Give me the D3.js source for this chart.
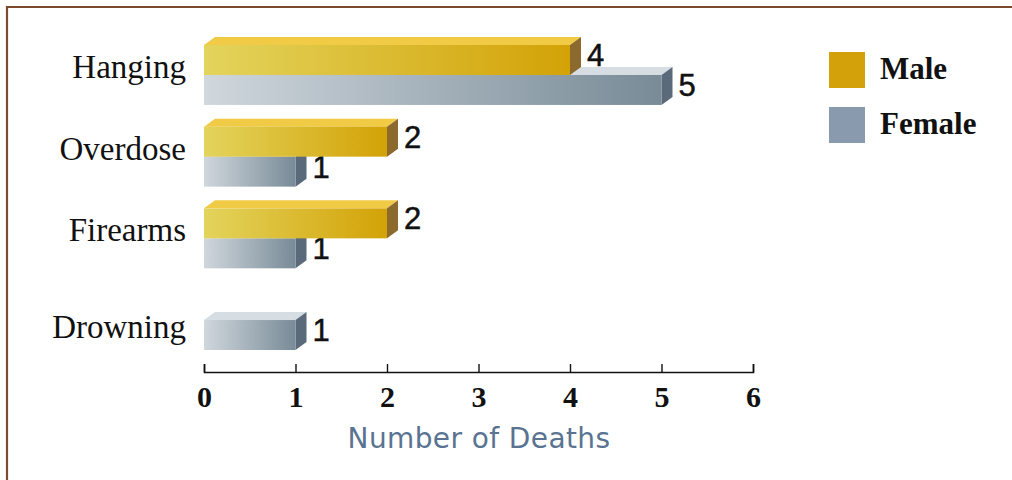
<!DOCTYPE html>
<html><head><meta charset="utf-8">
<script src="https://cdn.jsdelivr.net/npm/d3@7"></script>
<style>html,body{margin:0;padding:0;background:#fff;}svg{display:block;}</style>
</head><body>
<svg id="chart" width="1012" height="480"></svg>
<script>
const categories = ["Hanging", "Overdose", "Firearms", "Drowning"];
const seriesNames = ["Male", "Female"];
const maleValues = [4, 2, 2, 0];
const femaleValues = [5, 1, 1, 1];
const xTicks = [0, 1, 2, 3, 4, 5, 6];
const xTitle = "Number of Deaths";

const svg = d3.select("#chart");
const W = 1012, H = 480;

// frame
svg.append("path").attr("d", `M7,${H} L7,7 L${W},7`).attr("fill","none")
  .attr("stroke","#7b4a2c").attr("stroke-width",2.2);

const x = d3.scaleLinear().domain([0, 6]).range([204, 753]);
const y = d3.scaleBand().domain(categories).range([45, 350]).paddingInner(0.266).paddingOuter(0);
const ys = d3.scaleBand().domain(seriesNames).range([0, y.bandwidth()]);

const defs = svg.append("defs");
const styles = {
  Male: {front:["#e3d45c","#d3a207"], top:"#f1cb45", side:"#8c6a2e"},
  Female: {front:["#d0d7dd","#788b97"], top:"#d6dee4", side:"#5b6a7a"}
};
seriesNames.forEach(s => {
  const g = defs.append("linearGradient").attr("id","g"+s).attr("x1","0").attr("x2","1").attr("y1","0").attr("y2","0");
  g.append("stop").attr("offset","0").attr("stop-color",styles[s].front[0]);
  g.append("stop").attr("offset","1").attr("stop-color",styles[s].front[1]);
});

const dx = 11, dy = 8;
const rows = [];
categories.forEach((c, i) => {
  rows.push({cat:c, s:"Female", v:femaleValues[i]});
  rows.push({cat:c, s:"Male", v:maleValues[i]});
});

const bars = svg.append("g");
rows.filter(d => d.v > 0).forEach(d => {
  const x0 = x(0), x1 = x(d.v);
  const y0 = y(d.cat) + ys(d.s), h = ys.bandwidth();
  const st = styles[d.s];
  bars.append("path").attr("d", `M${x0},${y0} L${x0+dx},${y0-dy} L${x1+dx},${y0-dy} L${x1},${y0} Z`).attr("fill", st.top);
  bars.append("path").attr("d", `M${x1},${y0} L${x1+dx},${y0-dy} L${x1+dx},${y0+h-dy} L${x1},${y0+h} Z`).attr("fill", st.side);
  bars.append("rect").attr("x",x0).attr("y",y0).attr("width",x1-x0).attr("height",h).attr("fill","url(#g"+d.s+")");
  bars.append("text").attr("x", x1+dx+6).attr("y", y0+21)
    .attr("font-family","'Liberation Sans', Arial, sans-serif").attr("font-size",31).attr("fill","#111")
    .attr("stroke","#111").attr("stroke-width",0.5)
    .text(d.v);
});

// category labels: centred on the bars actually drawn in each group
const labelY = categories.map((c, i) => {
  const present = seriesNames.filter((s, k) => (k === 0 ? maleValues[i] : femaleValues[i]) > 0);
  const top = y(c) + ys(present[0]);
  const bottom = y(c) + ys(present[present.length-1]) + ys.bandwidth();
  return (top + bottom) / 2 + 3;
});
svg.append("g").selectAll("text").data(categories).join("text")
  .attr("x", 186).attr("y", (d,i) => labelY[i])
  .attr("text-anchor","end")
  .attr("font-family","'Liberation Serif', 'Times New Roman', serif").attr("font-size",33).attr("fill","#111")
  .text(d => d);

// axis
const axis = svg.append("g").attr("transform","translate(0,372)")
  .call(d3.axisBottom(x).tickValues(xTicks).tickSize(-8).tickPadding(14).tickFormat(d3.format("d")));
axis.select(".domain").attr("stroke","#111").attr("stroke-width",1.6);
axis.selectAll(".tick line").attr("stroke","#111").attr("stroke-width",1.4);
axis.selectAll(".tick text").attr("font-family","'Liberation Serif', 'Times New Roman', serif")
  .attr("font-size",30).attr("font-weight","bold").attr("fill","#111");

svg.append("text").attr("x", 479).attr("y", 448).attr("text-anchor","middle")
  .attr("font-family","'DejaVu Sans', sans-serif").attr("font-size",28).attr("letter-spacing",0.4).attr("fill","#5a7391")
  .text(xTitle);

// legend
const legendColors = {Male:"#d3a20b", Female:"#8a9aae"};
const lg = svg.append("g").selectAll("g").data(seriesNames).join("g")
  .attr("transform",(d,i)=>`translate(829,${52+i*55})`);
lg.append("rect").attr("width",36).attr("height",36).attr("fill",d=>legendColors[d]);
lg.append("text").attr("x",51).attr("y",27)
  .attr("font-family","'Liberation Serif', 'Times New Roman', serif").attr("font-size",31).attr("font-weight","bold").attr("fill","#111")
  .text(d=>d);
</script>
</body></html>
